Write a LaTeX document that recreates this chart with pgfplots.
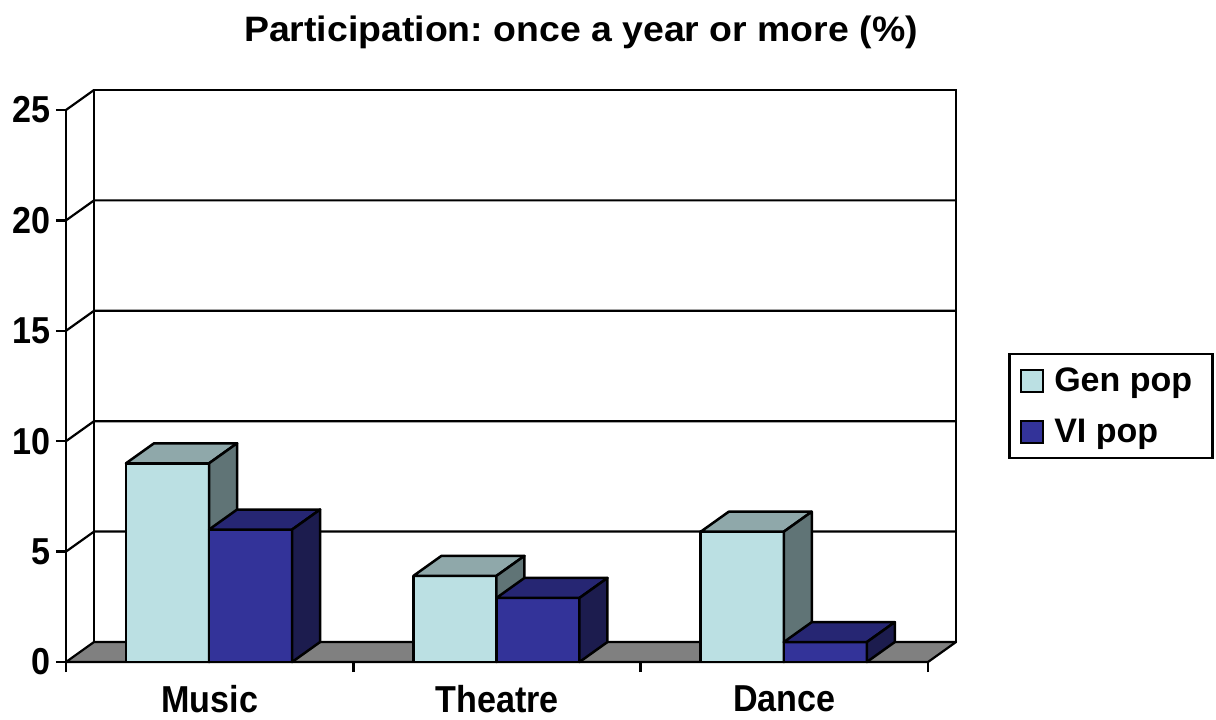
\documentclass[border=0pt]{standalone}
\usepackage{pgfplots}
\pgfplotsset{compat=1.18}
\usepackage{pgfplotstable}
\usepackage{fontspec}
\setmainfont{Liberation Sans}
\newfontfamily\condfont{Liberation Sans}[FakeStretch=0.91]
\newfontfamily\widefont{Liberation Sans}[FakeStretch=1.06]
\frenchspacing
\definecolor{genF}{RGB}{187,224,227}
\definecolor{genT}{RGB}{143,168,170}
\definecolor{genS}{RGB}{96,116,118}
\definecolor{viF}{RGB}{51,51,153}
\definecolor{viT}{RGB}{38,38,115}
\definecolor{viS}{RGB}{28,28,78}
\definecolor{floorc}{RGB}{128,128,128}

\pgfplotstableread{
cat gen vi
0 9.0 6.0
1 3.9 2.9
2 5.9 0.9
}\datatable

\newcommand\bw{0.289}
\newcommand\ddx{0.0975}
\newcommand\ddy{0.906}
\newcommand\tickfont{\condfont\bfseries\fontsize{37.5bp}{44bp}\selectfont}
\newcommand\legfont{\fontsize{34bp}{40bp}\selectfont\bfseries}
\newcommand\titlefont{\widefont\bfseries\fontsize{35.3bp}{42bp}\selectfont}

\newcommand{\barthreeD}[5]{%
  \pgfmathsetmacro\xa{#1}%
  \pgfmathsetmacro\xb{#1+\bw}%
  \pgfmathsetmacro\xc{#1+\ddx}%
  \pgfmathsetmacro\xd{#1+\bw+\ddx}%
  \pgfmathsetmacro\vt{#2+\ddy}%
  \edef\temp{%
    \noexpand\addplot[fill=#3, draw=black, line width=2.5bp, line join=round] coordinates {(\xa,0) (\xb,0) (\xb,#2) (\xa,#2)} -- cycle;
    \noexpand\addplot[fill=#4, draw=black, line width=2.5bp, line join=round] coordinates {(\xa,#2) (\xb,#2) (\xd,\vt) (\xc,\vt)} -- cycle;
    \noexpand\addplot[fill=#5, draw=black, line width=2.5bp, line join=round] coordinates {(\xb,0) (\xd,\ddy) (\xd,\vt) (\xb,#2)} -- cycle;
  }\temp
}

\begin{document}
\begin{tikzpicture}
\path[use as bounding box] (-66bp,-58bp) rectangle (1150bp,662bp);
\begin{axis}[
  scale only axis,
  width=862bp, height=552bp,
  xmin=0, xmax=3, ymin=0, ymax=25,
  clip=false,
  no markers,
  axis lines*=left,
  axis line style={line width=2.5bp, black},
  tick style={line width=2.5bp, black},
  tick align=outside,
  major tick length=10bp,
  ytick={0,5,10,15,20,25},
  xtick={0,1,2,3},
  xticklabels={},
  extra x ticks={0.5,1.5,2.5},
  extra x tick labels={Music,Theatre,Dance},
  extra x tick style={major tick length=0bp},
  /pgf/number format/assume math mode=true,
  ticklabel style={font=\tickfont},
  xticklabel style={anchor=north, inner sep=0bp, yshift=-23bp},
  yticklabel style={anchor=east, xshift=-2bp},
  title={Participation: once a year or more (\%)},
  title style={at={(0.5974,1.114)}, anchor=base, font=\titlefont},
  legend style={at={(1.0928,0.5598)}, anchor=north west, draw=black, line width=2.5bp,
    font=\legfont, inner xsep=0bp, inner ysep=1bp, row sep=0bp, column sep=0bp,
    nodes={inner xsep=0bp, inner ysep=0bp}},
  legend cell align=left,
  legend image code/.code={\path[draw=none, fill=none] (-12bp,-25.5bp) rectangle (33bp,25.5bp);
    \draw[#1, line width=2bp] (0bp,-11bp) rectangle (22bp,11bp);},
]
\addlegendimage{fill=genF, draw=black}
\addlegendentry{\makebox[158bp][l]{Gen pop}}
\addlegendimage{fill=viF, draw=black}
\addlegendentry{\makebox[158bp][l]{VI pop}}

% back wall and walls
\addplot[fill=white, draw=black, line width=2.2bp] coordinates {(\ddx,\ddy) (3+\ddx,\ddy) (3+\ddx,25+\ddy) (\ddx,25+\ddy)} -- cycle;
\addplot[draw=black, line width=2.2bp] coordinates {(0,25) (\ddx,25+\ddy)};
\addplot[draw=black, line width=2.2bp] coordinates {(0,20) (\ddx,20.906) (3.0975,20.906)};
\addplot[draw=black, line width=2.2bp] coordinates {(0,15) (\ddx,15.906) (3.0975,15.906)};
\addplot[draw=black, line width=2.2bp] coordinates {(0,10) (\ddx,10.906) (3.0975,10.906)};
\addplot[draw=black, line width=2.2bp] coordinates {(0,5) (\ddx,5.906) (3.0975,5.906)};
% floor
\addplot[fill=floorc, draw=black, line width=2.2bp, line join=round] coordinates {(0,0) (3,0) (3.0975,0.906) (0.0975,0.906)} -- cycle;

\pgfplotsforeachungrouped \rowi in {0,1,2}{%
  \pgfplotstablegetelem{\rowi}{gen}\of\datatable
  \let\vg\pgfplotsretval
  \pgfplotstablegetelem{\rowi}{vi}\of\datatable
  \let\vv\pgfplotsretval
  \pgfmathsetmacro\xg{\rowi+0.209}%
  \pgfmathsetmacro\xv{\rowi+0.498}%
  \barthreeD{\xg}{\vg}{genF}{genT}{genS}%
  \barthreeD{\xv}{\vv}{viF}{viT}{viS}%
}
\end{axis}
\end{tikzpicture}
\end{document}
